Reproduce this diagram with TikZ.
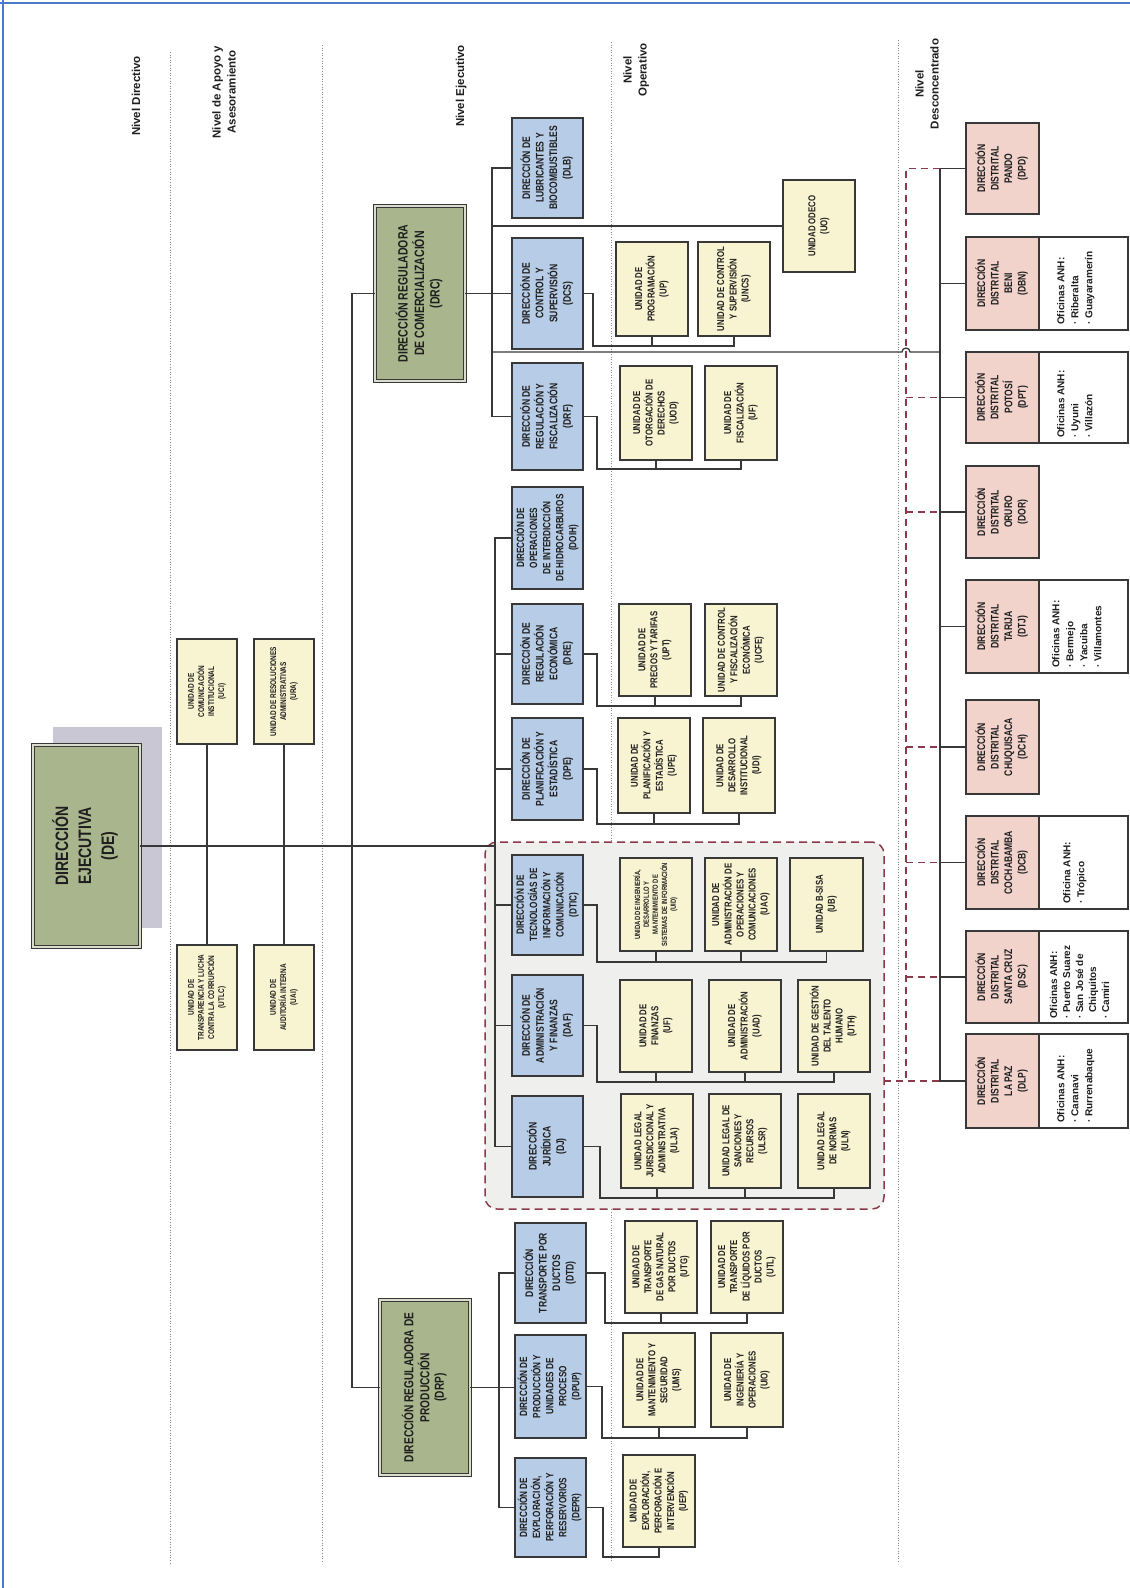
\documentclass[tikz,border=0pt]{standalone}
\usepackage{fontspec}
\usepackage{graphicx}
\setmainfont{Liberation Sans}
\newfontfamily\nar{Liberation Sans}[FakeStretch=0.78]
\usetikzlibrary{calc}
\definecolor{bluebox}{HTML}{B7CCE6}
\definecolor{yelbox}{HTML}{F8F3D0}
\definecolor{pinkbox}{HTML}{F1D3CC}
\definecolor{olive}{HTML}{A9B58C}
\definecolor{oliveg}{HTML}{DADDCB}
\definecolor{shadowc}{HTML}{C9C7D4}
\definecolor{grpfill}{HTML}{EFEFED}
\definecolor{edge}{HTML}{383838}
\definecolor{txt}{HTML}{1E1E1E}
\definecolor{maroon}{HTML}{8C3A4B}
\definecolor{frameblue}{HTML}{4A7BC6}
\definecolor{sepgray}{HTML}{8A8A8A}
\newcommand\rt[1]{\rotatebox{90}{\begin{tabular}{@{}c@{}}#1\end{tabular}}}
\newcommand\rtl[1]{\rotatebox{90}{\begin{tabular}{@{}l@{}}#1\end{tabular}}}
\newcommand\mybox[7]{%
 \pgfmathsetmacro\bxX{(#3+#5)/2}%
 \pgfmathsetmacro\bxY{(#4+#6)/2}%
 \pgfmathsetmacro\bxW{#5-#3}%
 \pgfmathsetmacro\bxH{#6-#4}%
 \node[#2,minimum width=\bxW pt,minimum height=\bxH pt] (#1) at (\bxX,\bxY) {#7};}
\begin{document}
\begin{tikzpicture}[x=1pt,y=-1pt,
  basebx/.style={rectangle, draw=edge, line width=1.3pt, inner sep=0.5pt, outer sep=0pt, text=txt},
  bluebx/.style={basebx, fill=bluebox, font=\nar\bfseries\fontsize{11}{13.5}\selectfont},
  bluebxs/.style={basebx, fill=bluebox, font=\nar\bfseries\fontsize{10.5}{13}\selectfont},
  yelbx/.style={basebx, fill=yelbox, font=\nar\bfseries\fontsize{10}{12}\selectfont},
  yelbxs/.style={basebx, fill=yelbox, font=\nar\bfseries\fontsize{7.5}{8.8}\selectfont},
  apbx/.style={basebx, fill=yelbox, font=\nar\bfseries\fontsize{8.3}{10}\selectfont},
  pinkbx/.style={basebx, fill=pinkbox, font=\nar\bfseries\fontsize{11}{13.5}\selectfont},
  whitebx/.style={basebx, fill=white},
  oftxt/.style={inner sep=0pt, font=\bfseries\fontsize{10}{14}\selectfont, text=txt},
  olivebx/.style={rectangle, draw=edge, line width=0.9pt, double=oliveg, double distance=1.6pt, fill=olive, inner sep=0pt, outer sep=0pt, text=txt},
  hdr/.style={inner sep=0pt, font=\bfseries\fontsize{11.5}{15}\selectfont, text=txt},
  conn/.style={draw=edge, line width=1.3pt},
  dsh/.style={draw=maroon, line width=1.5pt, dash pattern=on 7pt off 5pt},
  sep/.style={draw=sepgray, line width=0.9pt, dash pattern=on 1pt off 1.6pt},
  grpbx/.style={rectangle, rounded corners=12pt, draw=maroon, line width=1.5pt, dash pattern=on 8pt off 5pt, fill=grpfill, outer sep=0pt},
  shbx/.style={rectangle, fill=shadowc, draw=none}
]
\useasboundingbox (0,0) rectangle (1130,1588);
\fill[white] (0,0) rectangle (1130,1588);
\draw[frameblue, line width=2pt] (0,3) -- (1130,3);
\draw[frameblue, line width=2pt] (3,0) -- (3,1588);

% level separators
\draw[sep] (170,52) -- (170,1563);
\draw[sep] (322,45) -- (322,1563);
\draw[sep] (611,42) -- (611,1563);
\draw[sep] (898,40) -- (898,1563);

% headers
\node[hdr] (hDir) at (137,96) {\rt{Nivel Directivo}};
\node[hdr] (hApo) at (225,92) {\rt{Nivel de Apoyo y\\Asesoramiento}};
\node[hdr] (hEje) at (461,86) {\rt{Nivel Ejecutivo}};
\node[hdr] (hOpe) at (636,70) {\rt{Nivel\\Operativo}};
\node[hdr] (hDes) at (928,84) {\rt{Nivel\\Desconcentrado}};

% group box
\mybox{grp}{grpbx}{485}{842}{884}{1209}{}

% Direccion ejecutiva
\mybox{DEsh}{shbx}{53}{727}{162}{928}{}
\mybox{DE}{olivebx, font=\nar\bfseries\fontsize{18}{23}\selectfont}{33}{745}{140}{947}{\rt{DIRECCIÓN\\EJECUTIVA\\(DE)}}

% apoyo
\mybox{UCI}{apbx}{177}{639}{237}{744}{\rt{UNIDAD DE\\COMUNICACIÓN\\INSTITUCIONAL\\(UCI)}}
\mybox{URA}{apbx}{254}{639}{314}{744}{\rt{UNIDAD DE RESOLUCIONES\\ADMINISTRATIVAS\\(URA)}}
\mybox{UTLC}{apbx}{177}{945}{237}{1050}{\rt{UNIDAD DE\\TRANSPARENCIA Y LUCHA\\CONTRA LA CORRUPCIÓN\\(UTLC)}}
\mybox{UAI}{apbx}{254}{945}{314}{1050}{\rt{UNIDAD DE\\AUDITORÍA INTERNA\\(UAI)}}

% reguladoras
\mybox{DRC}{olivebx, font=\nar\bfseries\fontsize{13.5}{15.5}\selectfont}{375}{206}{465}{381}{\rt{DIRECCIÓN REGULADORA\\DE COMERCIALIZACIÓN\\(DRC)}}
\mybox{DRP}{olivebx, font=\nar\bfseries\fontsize{13}{14.5}\selectfont}{380}{1300}{470}{1475}{\rt{DIRECCIÓN REGULADORA DE\\PRODUCCIÓN\\(DRP)}}

% blue directions
\mybox{DLB}{bluebx}{512}{118}{583}{218}{\rt{DIRECCIÓN DE\\LUBRICANTES Y\\BIOCOMBUSTIBLES\\(DLB)}}
\mybox{DCS}{bluebx}{512}{238}{583}{349}{\rt{DIRECCIÓN DE\\CONTROL Y\\SUPERVISIÓN\\(DCS)}}
\mybox{DRF}{bluebx}{512}{363}{583}{470}{\rt{DIRECCIÓN DE\\REGULACIÓN Y\\FISCALIZACIÓN\\(DRF)}}
\mybox{DOIH}{bluebxs}{512}{487}{583}{589}{\rt{DIRECCIÓN DE\\OPERACIONES\\DE INTERDICCIÓN\\DE HIDROCARBUROS\\(DOIH)}}
\mybox{DRE}{bluebx}{512}{604}{583}{704}{\rt{DIRECCIÓN DE\\REGULACIÓN\\ECONÓMICA\\(DRE)}}
\mybox{DPE}{bluebx}{512}{718}{583}{820}{\rt{DIRECCIÓN DE\\PLANIFICACIÓN Y\\ESTADÍSTICA\\(DPE)}}
\mybox{DTIC}{bluebxs}{512}{855}{583}{955}{\rt{DIRECCIÓN DE\\TECNOLOGÍAS DE\\INFORMACIÓN Y\\COMUNICACIÓN\\(DTIC)}}
\mybox{DAF}{bluebx}{512}{975}{583}{1076}{\rt{DIRECCIÓN DE\\ADMINISTRACIÓN\\Y FINANZAS\\(DAF)}}
\mybox{DJ}{bluebx}{512}{1096}{583}{1197}{\rt{DIRECCIÓN\\JURÍDICA\\(DJ)}}
\mybox{DTD}{bluebx}{515}{1223}{586}{1323}{\rt{DIRECCIÓN\\TRANSPORTE POR\\DUCTOS\\(DTD)}}
\mybox{DPUP}{bluebxs}{515}{1335}{586}{1438}{\rt{DIRECCIÓN DE\\PRODUCCIÓN Y\\UNIDADES DE\\PROCESO\\(DPUP)}}
\mybox{DEPR}{bluebxs}{515}{1458}{586}{1557}{\rt{DIRECCIÓN DE\\EXPLORACIÓN,\\PERFORACIÓN Y\\RESERVORIOS\\(DEPR)}}

% operative units
\mybox{UDECO}{yelbx}{783}{180}{855}{272}{\rt{UNIDAD ODECO\\(UO)}}
\mybox{UP}{yelbx}{616}{242}{688}{336}{\rt{UNIDAD DE\\PROGRAMACIÓN\\(UP)}}
\mybox{UNCS}{yelbx}{698}{242}{770}{336}{\rt{UNIDAD DE CONTROL\\Y SUPERVISIÓN\\(UNCS)}}
\mybox{UOD}{yelbx}{620}{366}{692}{460}{\rt{UNIDAD DE\\OTORGACIÓN DE\\DERECHOS\\(UOD)}}
\mybox{UFI}{yelbx}{705}{366}{777}{460}{\rt{UNIDAD DE\\FISCALIZACIÓN\\(UF)}}
\mybox{UPT}{yelbx}{619}{604}{691}{696}{\rt{UNIDAD DE\\PRECIOS Y TARIFAS\\(UPT)}}
\mybox{UCFE}{yelbx}{705}{604}{777}{696}{\rt{UNIDAD DE CONTROL\\Y FISCALIZACIÓN\\ECONÓMICA\\(UCFE)}}
\mybox{UPE}{yelbx}{618}{718}{690}{813}{\rt{UNIDAD DE\\PLANIFICACIÓN Y\\ESTADÍSTICA\\(UPE)}}
\mybox{UDI}{yelbx}{703}{718}{775}{813}{\rt{UNIDAD DE\\DESARROLLO\\INSTITUCIONAL\\(UDI)}}
\mybox{UID}{yelbxs}{620}{858}{692}{951}{\rt{UNIDAD DE INGENIERÍA,\\DESARROLLO Y\\MANTENIMIENTO DE\\SISTEMAS DE INFORMACIÓN\\(UID)}}
\mybox{UAO}{yelbx}{705}{858}{777}{951}{\rt{UNIDAD DE\\ADMINISTRACIÓN DE\\OPERACIONES Y\\COMUNICACIONES\\(UAO)}}
\mybox{UB}{yelbx}{790}{858}{863}{951}{\rt{UNIDAD B-SISA\\(UB)}}
\mybox{UFN}{yelbx}{620}{980}{692}{1072}{\rt{UNIDAD DE\\FINANZAS\\(UF)}}
\mybox{UAD}{yelbx}{709}{980}{781}{1072}{\rt{UNIDAD DE\\ADMINISTRACIÓN\\(UAD)}}
\mybox{UTH}{yelbx}{798}{980}{870}{1072}{\rt{UNIDAD DE GESTIÓN\\DEL TALENTO\\HUMANO\\(UTH)}}
\mybox{ULJA}{yelbx}{621}{1094}{693}{1188}{\rt{UNIDAD LEGAL\\JURISDICCIONAL Y\\ADMINISTRATIVA\\(ULJA)}}
\mybox{ULSR}{yelbx}{709}{1094}{781}{1188}{\rt{UNIDAD LEGAL DE\\SANCIONES Y\\RECURSOS\\(ULSR)}}
\mybox{ULN}{yelbx}{798}{1094}{870}{1188}{\rt{UNIDAD LEGAL\\DE NORMAS\\(ULN)}}
\mybox{UTG}{yelbx}{625}{1221}{697}{1313}{\rt{UNIDAD DE\\TRANSPORTE\\DE GAS NATURAL\\POR DUCTOS\\(UTG)}}
\mybox{UTL}{yelbx}{711}{1221}{783}{1313}{\rt{UNIDAD DE\\TRANSPORTE\\DE LÍQUIDOS POR\\DUCTOS\\(UTL)}}
\mybox{UMS}{yelbx}{623}{1333}{695}{1427}{\rt{UNIDAD DE\\MANTENIMIENTO Y\\SEGURIDAD\\(UMS)}}
\mybox{UIO}{yelbx}{711}{1333}{783}{1427}{\rt{UNIDAD DE\\INGENIERÍA Y\\OPERACIONES\\(UIO)}}
\mybox{UEP}{yelbx}{623}{1455}{695}{1547}{\rt{UNIDAD DE\\EXPLORACIÓN,\\PERFORACIÓN E\\INTERVENCIÓN\\(UEP)}}

% distritales
\mybox{DPD}{pinkbx}{966}{123}{1039}{214}{\rt{DIRECCIÓN\\DISTRITAL\\PANDO\\(DPD)}}
\mybox{DBN}{pinkbx}{966}{237}{1039}{330}{\rt{DIRECCIÓN\\DISTRITAL\\BENI\\(DBN)}}
\mybox{DPT}{pinkbx}{966}{352}{1039}{443}{\rt{DIRECCIÓN\\DISTRITAL\\POTOSÍ\\(DPT)}}
\mybox{DOR}{pinkbx}{966}{466}{1039}{558}{\rt{DIRECCIÓN\\DISTRITAL\\ORURO\\(DOR)}}
\mybox{DTJ}{pinkbx}{966}{580}{1039}{673}{\rt{DIRECCIÓN\\DISTRITAL\\TARIJA\\(DTJ)}}
\mybox{DCH}{pinkbx}{966}{700}{1039}{794}{\rt{DIRECCIÓN\\DISTRITAL\\CHUQUISACA\\(DCH)}}
\mybox{DCB}{pinkbx}{966}{816}{1039}{909}{\rt{DIRECCIÓN\\DISTRITAL\\COCHABAMBA\\(DCB)}}
\mybox{DSC}{pinkbx}{966}{931}{1039}{1023}{\rt{DIRECCIÓN\\DISTRITAL\\SANTA CRUZ\\(DSC)}}
\mybox{DLP}{pinkbx}{966}{1034}{1039}{1128}{\rt{DIRECCIÓN\\DISTRITAL\\LA PAZ\\(DLP)}}

\mybox{DBNo}{whitebx}{1039}{237}{1128}{330}{}
\mybox{DPTo}{whitebx}{1039}{352}{1128}{443}{}
\mybox{DTJo}{whitebx}{1039}{580}{1128}{673}{}
\mybox{DCBo}{whitebx}{1039}{816}{1128}{909}{}
\mybox{DSCo}{whitebx}{1039}{931}{1128}{1023}{}
\mybox{DLPo}{whitebx}{1039}{1034}{1128}{1128}{}
\node[oftxt, anchor=south, xshift=-8pt, yshift=5pt] (DBNt) at (DBNo.south) {\rtl{Oficinas ANH:\\· Riberalta\\· Guayaramerín}};
\node[oftxt, anchor=south, xshift=-8pt, yshift=5pt] (DPTt) at (DPTo.south) {\rtl{Oficinas ANH:\\· Uyuni\\· Villazón}};
\node[oftxt, anchor=south, xshift=-6pt, yshift=5pt] (DTJt) at (DTJo.south) {\rtl{Oficinas ANH:\\· Bermejo\\· Yacuiba\\· Villamontes}};
\node[oftxt, anchor=south, xshift=-9pt, yshift=5pt] (DCBt) at (DCBo.south) {\rtl{Oficina ANH:\\· Trópico}};
\node[oftxt, anchor=south, xshift=-3pt, yshift=4pt, font=\bfseries\fontsize{10}{13}\selectfont] (DSCt) at (DSCo.south) {\rtl{Oficinas ANH:\\· Puerto Suarez\\· San José de\\\phantom{· }Chiquitos\\· Camiri}};
\node[oftxt, anchor=south, xshift=-8pt, yshift=5pt] (DLPt) at (DLPo.south) {\rtl{Oficinas ANH:\\· Caranavi\\· Rurrenabaque}};

% connectors: apoyo
\draw[conn] (UCI.south) -- (UTLC.north);
\draw[conn] (URA.south) -- (UAI.north);

% DRC branch
\draw[conn] (DLB.west) -- ++(-20,0) coordinate (spR) |- (DRF.west);
\draw[conn] (DRC.east) -- (DCS.west);
\draw[conn] (DRC.west) -- ++(-23,0) |- (DRP.west);
\draw[conn] (UDECO.west) -- (UDECO.west -| spR);

% central branch
\draw[conn] (DOIH.west) -- ++(-17,0) coordinate (spC) |- (DJ.west);
\foreach \n in {DRE,DPE,DTIC,DAF} \draw[conn] (\n.west) -- (\n.west -| spC);
\draw[conn] (DE.east) -- (DE.east -| spC);

% DRP branch
\draw[conn] (DTD.west) -- ++(-16,0) coordinate (spP) |- (DEPR.west);
\draw[conn] (DRP.east) -- (DRP.east -| DPUP.west);

% unit buses
\coordinate (bDCS) at (593,346);
\draw[conn] (DCS.east) -| (bDCS) -| (UNCS.south);
\draw[conn] (UP.south) -- (UP.south |- bDCS);
\coordinate (bDRF) at (597,469);
\draw[conn] (DRF.east) -| (bDRF) -| (UFI.south);
\draw[conn] (UOD.south) -- (UOD.south |- bDRF);
\coordinate (bDRE) at (597,706);
\draw[conn] (DRE.east) -| (bDRE) -| (UCFE.south);
\draw[conn] (UPT.south) -- (UPT.south |- bDRE);
\coordinate (bDPE) at (597,824);
\draw[conn] (DPE.east) -| (bDPE) -| (UDI.south);
\draw[conn] (UPE.south) -- (UPE.south |- bDPE);
\coordinate (bDTIC) at (597,962);
\draw[conn] (DTIC.east) -| (bDTIC) -| (UB.south);
\draw[conn] (UID.south) -- (UID.south |- bDTIC);
\draw[conn] (UAO.south) -- (UAO.south |- bDTIC);
\coordinate (bDAF) at (597,1082);
\draw[conn] (DAF.east) -| (bDAF) -| (UTH.south);
\draw[conn] (UFN.south) -- (UFN.south |- bDAF);
\draw[conn] (UAD.south) -- (UAD.south |- bDAF);
\coordinate (bDJ) at (600,1198);
\draw[conn] (DJ.east) -| (bDJ) -| (ULN.south);
\draw[conn] (ULJA.south) -- (ULJA.south |- bDJ);
\draw[conn] (ULSR.south) -- (ULSR.south |- bDJ);
\coordinate (bDTD) at (605,1323);
\draw[conn] (DTD.east) -| (bDTD) -| (UTL.south);
\draw[conn] (UTG.south) -- (UTG.south |- bDTD);
\coordinate (bDPUP) at (602,1438);
\draw[conn] (DPUP.east) -| (bDPUP) -| (UIO.south);
\draw[conn] (UMS.south) -- (UMS.south |- bDPUP);
\coordinate (bDEPR) at (603,1557);
\draw[conn] (DEPR.east) -| (bDEPR) -| (UEP.south);

% distrital spine
\draw[conn] (DPD.west) -- ++(-26,0) coordinate (spD) |- (DLP.west);
\foreach \n in {DBN,DPT,DOR,DTJ,DCH,DCB,DSC} \draw[conn] (\n.west) -- (\n.west -| spD);

% dashed coordination line
\coordinate (dX) at (906,169);
\draw[dsh] (DPD.west -| spD) -| (dX |- DLP.west) -- (DLP.west -| spD);
\foreach \n in {DPT,DOR,DCH,DCB,DSC} \draw[dsh] (dX |- \n.west) -- (\n.west -| spD);
\draw[dsh] (grp.east |- DLP.west) -- (dX |- DLP.west);

% long link from DRC spine to distrital spine (with hop)
\coordinate (lkA) at (492,352);
\draw[conn] (lkA) -- (902,352) arc[start angle=180, end angle=360, radius=4] -- (lkA -| spD);
\end{tikzpicture}
\end{document}
